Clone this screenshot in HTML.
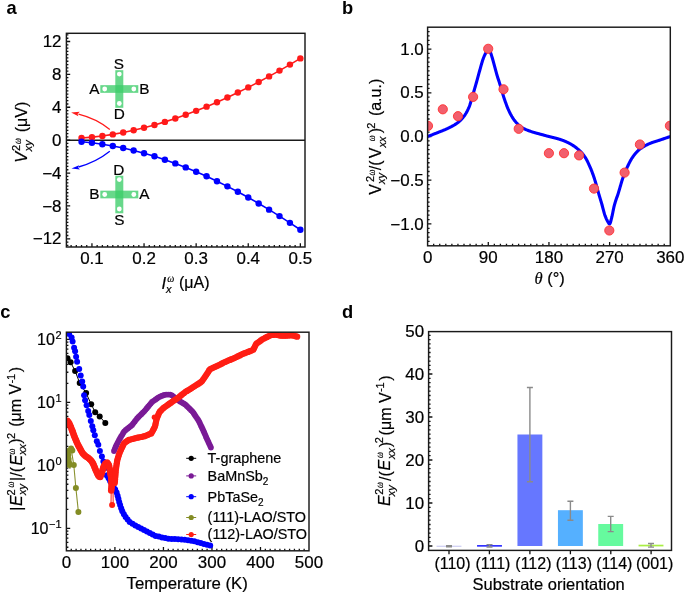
<!DOCTYPE html>
<html><head><meta charset="utf-8"><style>
html,body{margin:0;padding:0;background:#fff;overflow:hidden;}
svg{display:block;will-change:transform;}
text{font-family:"Liberation Sans", sans-serif;stroke:#000;stroke-width:0.2px;}
</style></head><body>
<svg width="685" height="594" viewBox="0 0 685 594" font-family='"Liberation Sans", sans-serif'>
<rect width="685" height="594" fill="#fff"/>
<text x="0" y="0" font-size="17.8" text-anchor="start" font-weight="bold" font-style="normal" fill="#000" transform="translate(6.6,13.9) scale(1.03,1)" style="stroke-width:0">a</text>
<line x1="66.4" y1="140.3" x2="305" y2="140.3" stroke="#1a1a1a" stroke-width="1.5"/>
<path d="M66.4,245.35h2.0 M66.4,242.07h2.0 M66.4,238.78h3.8 M66.4,235.49h2.0 M66.4,232.2h2.0 M66.4,228.92h2.0 M66.4,225.63h2.0 M66.4,222.34h2.0 M66.4,219.05h2.0 M66.4,215.76h2.0 M66.4,212.48h2.0 M66.4,209.19h2.0 M66.4,205.9h3.8 M66.4,202.61h2.0 M66.4,199.33h2.0 M66.4,196.04h2.0 M66.4,192.75h2.0 M66.4,189.46h2.0 M66.4,186.18h2.0 M66.4,182.89h2.0 M66.4,179.6h2.0 M66.4,176.31h2.0 M66.4,173.03h3.8 M66.4,169.74h2.0 M66.4,166.45h2.0 M66.4,163.16h2.0 M66.4,159.88h2.0 M66.4,156.59h2.0 M66.4,153.3h2.0 M66.4,150.01h2.0 M66.4,146.73h2.0 M66.4,143.44h2.0 M66.4,140.15h3.8 M66.4,136.86h2.0 M66.4,133.57h2.0 M66.4,130.29h2.0 M66.4,127h2.0 M66.4,123.71h2.0 M66.4,120.42h2.0 M66.4,117.14h2.0 M66.4,113.85h2.0 M66.4,110.56h2.0 M66.4,107.27h3.8 M66.4,103.99h2.0 M66.4,100.7h2.0 M66.4,97.41h2.0 M66.4,94.12h2.0 M66.4,90.84h2.0 M66.4,87.55h2.0 M66.4,84.26h2.0 M66.4,80.97h2.0 M66.4,77.69h2.0 M66.4,74.4h3.8 M66.4,71.11h2.0 M66.4,67.82h2.0 M66.4,64.54h2.0 M66.4,61.25h2.0 M66.4,57.96h2.0 M66.4,54.67h2.0 M66.4,51.38h2.0 M66.4,48.1h2.0 M66.4,44.81h2.0 M66.4,41.52h3.8 M66.4,38.23h2.0 M66.4,34.95h2.0 M71.11,247v-2.0 M76.32,247v-2.0 M81.53,247v-2.0 M86.74,247v-2.0 M91.95,247v-3.8 M97.16,247v-2.0 M102.37,247v-2.0 M107.58,247v-2.0 M112.79,247v-2.0 M118,247v-2.0 M123.21,247v-2.0 M128.42,247v-2.0 M133.63,247v-2.0 M138.84,247v-2.0 M144.05,247v-3.8 M149.26,247v-2.0 M154.47,247v-2.0 M159.68,247v-2.0 M164.89,247v-2.0 M170.1,247v-2.0 M175.31,247v-2.0 M180.52,247v-2.0 M185.73,247v-2.0 M190.94,247v-2.0 M196.15,247v-3.8 M201.36,247v-2.0 M206.57,247v-2.0 M211.78,247v-2.0 M216.99,247v-2.0 M222.2,247v-2.0 M227.41,247v-2.0 M232.62,247v-2.0 M237.83,247v-2.0 M243.04,247v-2.0 M248.25,247v-3.8 M253.46,247v-2.0 M258.67,247v-2.0 M263.88,247v-2.0 M269.09,247v-2.0 M274.3,247v-2.0 M279.51,247v-2.0 M284.72,247v-2.0 M289.93,247v-2.0 M295.14,247v-2.0 M300.35,247v-3.8" stroke="#111" stroke-width="1.3" fill="none"/>
<rect x="66.4" y="33.3" width="238.6" height="213.7" fill="none" stroke="#1a1a1a" stroke-width="1.45" stroke-linejoin="miter"/>
<text x="0" y="0" font-size="16" text-anchor="end" font-weight="normal" font-style="normal" fill="#000" transform="translate(61.5,47.12) scale(1.06,1)">12</text>
<text x="0" y="0" font-size="16" text-anchor="end" font-weight="normal" font-style="normal" fill="#000" transform="translate(61.5,80) scale(1.06,1)">8</text>
<text x="0" y="0" font-size="16" text-anchor="end" font-weight="normal" font-style="normal" fill="#000" transform="translate(61.5,112.87) scale(1.06,1)">4</text>
<text x="0" y="0" font-size="16" text-anchor="end" font-weight="normal" font-style="normal" fill="#000" transform="translate(61.5,145.75) scale(1.06,1)">0</text>
<text x="0" y="0" font-size="16" text-anchor="end" font-weight="normal" font-style="normal" fill="#000" transform="translate(61.5,178.63) scale(1.06,1)">−4</text>
<text x="0" y="0" font-size="16" text-anchor="end" font-weight="normal" font-style="normal" fill="#000" transform="translate(61.5,211.5) scale(1.06,1)">−8</text>
<text x="0" y="0" font-size="16" text-anchor="end" font-weight="normal" font-style="normal" fill="#000" transform="translate(61.5,244.38) scale(1.06,1)">−12</text>
<text x="0" y="0" font-size="16" text-anchor="middle" font-weight="normal" font-style="normal" fill="#000" transform="translate(91.95,264.2) scale(1.06,1)">0.1</text>
<text x="0" y="0" font-size="16" text-anchor="middle" font-weight="normal" font-style="normal" fill="#000" transform="translate(144.05,264.2) scale(1.06,1)">0.2</text>
<text x="0" y="0" font-size="16" text-anchor="middle" font-weight="normal" font-style="normal" fill="#000" transform="translate(196.15,264.2) scale(1.06,1)">0.3</text>
<text x="0" y="0" font-size="16" text-anchor="middle" font-weight="normal" font-style="normal" fill="#000" transform="translate(248.25,264.2) scale(1.06,1)">0.4</text>
<text x="0" y="0" font-size="16" text-anchor="middle" font-weight="normal" font-style="normal" fill="#000" transform="translate(300.35,264.2) scale(1.06,1)">0.5</text>
<polyline points="81.53,138.03 91.95,137.15 102.37,135.93 112.79,134.38 123.21,132.5 133.63,130.3 144.05,127.79 154.47,124.98 164.89,121.88 175.31,118.48 185.73,114.81 196.15,110.87 206.57,106.67 216.99,102.22 227.41,97.51 237.83,92.57 248.25,87.4 258.67,82.01 269.09,76.4 279.51,70.59 289.93,64.58 300.35,58.38" fill="none" stroke="#ff1a1a" stroke-width="1.6"/>
<circle cx="81.53" cy="138.03" r="3.2" fill="#ff1a1a"/>
<circle cx="91.95" cy="137.15" r="3.2" fill="#ff1a1a"/>
<circle cx="102.37" cy="135.93" r="3.2" fill="#ff1a1a"/>
<circle cx="112.79" cy="134.38" r="3.2" fill="#ff1a1a"/>
<circle cx="123.21" cy="132.5" r="3.2" fill="#ff1a1a"/>
<circle cx="133.63" cy="130.3" r="3.2" fill="#ff1a1a"/>
<circle cx="144.05" cy="127.79" r="3.2" fill="#ff1a1a"/>
<circle cx="154.47" cy="124.98" r="3.2" fill="#ff1a1a"/>
<circle cx="164.89" cy="121.88" r="3.2" fill="#ff1a1a"/>
<circle cx="175.31" cy="118.48" r="3.2" fill="#ff1a1a"/>
<circle cx="185.73" cy="114.81" r="3.2" fill="#ff1a1a"/>
<circle cx="196.15" cy="110.87" r="3.2" fill="#ff1a1a"/>
<circle cx="206.57" cy="106.67" r="3.2" fill="#ff1a1a"/>
<circle cx="216.99" cy="102.22" r="3.2" fill="#ff1a1a"/>
<circle cx="227.41" cy="97.51" r="3.2" fill="#ff1a1a"/>
<circle cx="237.83" cy="92.57" r="3.2" fill="#ff1a1a"/>
<circle cx="248.25" cy="87.4" r="3.2" fill="#ff1a1a"/>
<circle cx="258.67" cy="82.01" r="3.2" fill="#ff1a1a"/>
<circle cx="269.09" cy="76.4" r="3.2" fill="#ff1a1a"/>
<circle cx="279.51" cy="70.59" r="3.2" fill="#ff1a1a"/>
<circle cx="289.93" cy="64.58" r="3.2" fill="#ff1a1a"/>
<circle cx="300.35" cy="58.38" r="3.2" fill="#ff1a1a"/>
<polyline points="81.53,141.71 91.95,142.77 102.37,144.18 112.79,145.93 123.21,148.03 133.63,150.46 144.05,153.22 154.47,156.3 164.89,159.69 175.31,163.4 185.73,167.4 196.15,171.71 206.57,176.31 216.99,181.19 227.41,186.35 237.83,191.78 248.25,197.48 258.67,203.44 269.09,209.66 279.51,216.12 289.93,222.83 300.35,229.77" fill="none" stroke="#0000ff" stroke-width="1.6"/>
<circle cx="81.53" cy="141.71" r="3.2" fill="#0000ff"/>
<circle cx="91.95" cy="142.77" r="3.2" fill="#0000ff"/>
<circle cx="102.37" cy="144.18" r="3.2" fill="#0000ff"/>
<circle cx="112.79" cy="145.93" r="3.2" fill="#0000ff"/>
<circle cx="123.21" cy="148.03" r="3.2" fill="#0000ff"/>
<circle cx="133.63" cy="150.46" r="3.2" fill="#0000ff"/>
<circle cx="144.05" cy="153.22" r="3.2" fill="#0000ff"/>
<circle cx="154.47" cy="156.3" r="3.2" fill="#0000ff"/>
<circle cx="164.89" cy="159.69" r="3.2" fill="#0000ff"/>
<circle cx="175.31" cy="163.4" r="3.2" fill="#0000ff"/>
<circle cx="185.73" cy="167.4" r="3.2" fill="#0000ff"/>
<circle cx="196.15" cy="171.71" r="3.2" fill="#0000ff"/>
<circle cx="206.57" cy="176.31" r="3.2" fill="#0000ff"/>
<circle cx="216.99" cy="181.19" r="3.2" fill="#0000ff"/>
<circle cx="227.41" cy="186.35" r="3.2" fill="#0000ff"/>
<circle cx="237.83" cy="191.78" r="3.2" fill="#0000ff"/>
<circle cx="248.25" cy="197.48" r="3.2" fill="#0000ff"/>
<circle cx="258.67" cy="203.44" r="3.2" fill="#0000ff"/>
<circle cx="269.09" cy="209.66" r="3.2" fill="#0000ff"/>
<circle cx="279.51" cy="216.12" r="3.2" fill="#0000ff"/>
<circle cx="289.93" cy="222.83" r="3.2" fill="#0000ff"/>
<circle cx="300.35" cy="229.77" r="3.2" fill="#0000ff"/>
<path d="M109.8,129.5 Q96,118.5 78.5,114.2" fill="none" stroke="#ff1a1a" stroke-width="1.3"/>
<path d="M71.1,112.6 L79.7,111.8 L77.6,113.9 L78.4,116.2 Z" fill="#ff1a1a"/>
<path d="M109.8,151.3 Q96,162.3 78.5,167.0" fill="none" stroke="#0000ff" stroke-width="1.3"/>
<path d="M71.5,168.4 L79.1,165.3 L78.0,167.4 L79.9,169.6 Z" fill="#0000ff"/>
<rect x="115.3" y="70.2" width="8" height="37.6" fill="rgba(60,205,105,0.78)"/>
<rect x="100.3" y="85.15" width="38" height="7.7" fill="rgba(60,205,105,0.78)"/>
<circle cx="119.3" cy="74.1" r="2.4" fill="#fff"/>
<circle cx="119.3" cy="103.5" r="2.4" fill="#fff"/>
<circle cx="104.7" cy="89" r="2.4" fill="#fff"/>
<circle cx="133.8" cy="89" r="2.4" fill="#fff"/>
<text x="0" y="0" font-size="14.6" text-anchor="middle" font-weight="normal" font-style="normal" fill="#000" transform="translate(118.9,69) scale(1.05,1)">S</text>
<text x="0" y="0" font-size="14.6" text-anchor="middle" font-weight="normal" font-style="normal" fill="#000" transform="translate(119.3,119.2) scale(1.05,1)">D</text>
<text x="0" y="0" font-size="14.6" text-anchor="end" font-weight="normal" font-style="normal" fill="#000" transform="translate(99.5,93.7) scale(1.05,1)">A</text>
<text x="0" y="0" font-size="14.6" text-anchor="start" font-weight="normal" font-style="normal" fill="#000" transform="translate(139.3,93.7) scale(1.05,1)">B</text>
<rect x="115.3" y="175.7" width="8" height="37.6" fill="rgba(60,205,105,0.78)"/>
<rect x="100.3" y="190.65" width="38" height="7.7" fill="rgba(60,205,105,0.78)"/>
<circle cx="119.3" cy="179.6" r="2.4" fill="#fff"/>
<circle cx="119.3" cy="209" r="2.4" fill="#fff"/>
<circle cx="104.7" cy="194.5" r="2.4" fill="#fff"/>
<circle cx="133.8" cy="194.5" r="2.4" fill="#fff"/>
<text x="0" y="0" font-size="14.6" text-anchor="middle" font-weight="normal" font-style="normal" fill="#000" transform="translate(118.9,174.5) scale(1.05,1)">D</text>
<text x="0" y="0" font-size="14.6" text-anchor="middle" font-weight="normal" font-style="normal" fill="#000" transform="translate(119.3,224.7) scale(1.05,1)">S</text>
<text x="0" y="0" font-size="14.6" text-anchor="end" font-weight="normal" font-style="normal" fill="#000" transform="translate(99.5,199.2) scale(1.05,1)">B</text>
<text x="0" y="0" font-size="14.6" text-anchor="start" font-weight="normal" font-style="normal" fill="#000" transform="translate(139.3,199.2) scale(1.05,1)">A</text>
<g transform="translate(26.8,160.8) rotate(-90)"><text x="-2" y="0.4" font-size="16.5" font-style="italic" fill="#000">V</text><text x="9.7" y="-6.8" font-size="11" fill="#000">2</text><text transform="translate(16.7,-6.2) scale(0.8,1)" font-size="10.5" font-style="italic" style="font-family:'Liberation Serif'" fill="#000">ω</text><text x="9.5" y="5" font-size="11" font-style="italic" fill="#000">xy</text><text x="28.6" y="0" font-size="16" fill="#000">(μV)</text></g>
<g transform="translate(162.4,288.7)"><text x="-1" y="0.2" font-size="16.5" font-style="italic" fill="#000">I</text><text transform="translate(4.8,-6.4) scale(0.95,1)" font-size="10.5" font-style="italic" style="font-family:'Liberation Serif'" fill="#000">ω</text><text x="3.5" y="4" font-size="11" font-style="italic" fill="#000">x</text><text x="16.6" y="-0.4" font-size="16" fill="#000">(μA)</text></g>
<text x="0" y="0" font-size="17.8" text-anchor="start" font-weight="bold" font-style="normal" fill="#000" transform="translate(341.9,13.6) scale(1.03,1)" style="stroke-width:0">b</text>
<path d="M427.6,241.43h2.0 M427.6,237.06h2.0 M427.6,232.68h2.0 M427.6,228.31h2.0 M427.6,223.94h3.8 M427.6,219.57h2.0 M427.6,215.2h2.0 M427.6,210.82h2.0 M427.6,206.45h2.0 M427.6,202.08h2.0 M427.6,197.71h2.0 M427.6,193.34h2.0 M427.6,188.96h2.0 M427.6,184.59h2.0 M427.6,180.22h3.8 M427.6,175.85h2.0 M427.6,171.48h2.0 M427.6,167.1h2.0 M427.6,162.73h2.0 M427.6,158.36h2.0 M427.6,153.99h2.0 M427.6,149.62h2.0 M427.6,145.24h2.0 M427.6,140.87h2.0 M427.6,136.5h3.8 M427.6,132.13h2.0 M427.6,127.76h2.0 M427.6,123.38h2.0 M427.6,119.01h2.0 M427.6,114.64h2.0 M427.6,110.27h2.0 M427.6,105.9h2.0 M427.6,101.52h2.0 M427.6,97.15h2.0 M427.6,92.78h3.8 M427.6,88.41h2.0 M427.6,84.04h2.0 M427.6,79.66h2.0 M427.6,75.29h2.0 M427.6,70.92h2.0 M427.6,66.55h2.0 M427.6,62.18h2.0 M427.6,57.8h2.0 M427.6,53.43h2.0 M427.6,49.06h3.8 M427.6,44.69h2.0 M427.6,40.32h2.0 M427.6,35.94h2.0 M427.6,31.57h2.0 M433.67,245.8v-2.0 M439.74,245.8v-2.0 M445.8,245.8v-2.0 M451.87,245.8v-2.0 M457.94,245.8v-2.0 M464,245.8v-2.0 M470.07,245.8v-2.0 M476.14,245.8v-2.0 M482.21,245.8v-2.0 M488.28,245.8v-3.8 M494.34,245.8v-2.0 M500.41,245.8v-2.0 M506.48,245.8v-2.0 M512.55,245.8v-2.0 M518.61,245.8v-2.0 M524.68,245.8v-2.0 M530.75,245.8v-2.0 M536.82,245.8v-2.0 M542.88,245.8v-2.0 M548.95,245.8v-3.8 M555.02,245.8v-2.0 M561.09,245.8v-2.0 M567.15,245.8v-2.0 M573.22,245.8v-2.0 M579.29,245.8v-2.0 M585.36,245.8v-2.0 M591.42,245.8v-2.0 M597.49,245.8v-2.0 M603.56,245.8v-2.0 M609.62,245.8v-3.8 M615.69,245.8v-2.0 M621.76,245.8v-2.0 M627.83,245.8v-2.0 M633.89,245.8v-2.0 M639.96,245.8v-2.0 M646.03,245.8v-2.0 M652.1,245.8v-2.0 M658.16,245.8v-2.0 M664.23,245.8v-2.0" stroke="#111" stroke-width="1.3" fill="none"/>
<defs><clipPath id="cb"><rect x="427.6" y="27.2" width="242.69999999999993" height="218.60000000000002"/></clipPath><clipPath id="cc"><rect x="66.4" y="332.2" width="242.6" height="218.6"/></clipPath></defs>
<polyline points="427.6,136.5 427.94,136.37 428.27,136.25 428.61,136.12 428.95,135.99 429.29,135.86 429.62,135.73 429.96,135.61 430.3,135.48 430.63,135.35 430.97,135.22 431.31,135.09 431.65,134.96 431.98,134.83 432.32,134.7 432.66,134.56 432.99,134.43 433.33,134.3 433.67,134.17 434,134.04 434.34,133.91 434.68,133.77 435.02,133.64 435.35,133.51 435.69,133.37 436.03,133.24 436.36,133.1 436.7,132.97 437.04,132.84 437.38,132.7 437.71,132.57 438.05,132.43 438.39,132.3 438.72,132.16 439.06,132.03 439.4,131.9 439.74,131.77 440.07,131.63 440.41,131.5 440.75,131.37 441.08,131.24 441.42,131.11 441.76,130.97 442.09,130.84 442.43,130.71 442.77,130.57 443.11,130.43 443.44,130.3 443.78,130.16 444.12,130.02 444.45,129.88 444.79,129.74 445.13,129.59 445.47,129.45 445.8,129.3 446.14,129.15 446.48,129 446.81,128.85 447.15,128.69 447.49,128.53 447.83,128.37 448.16,128.2 448.5,128.04 448.84,127.88 449.17,127.71 449.51,127.55 449.85,127.38 450.18,127.21 450.52,127.04 450.86,126.87 451.2,126.69 451.53,126.52 451.87,126.34 452.21,126.16 452.54,125.98 452.88,125.79 453.22,125.6 453.56,125.41 453.89,125.21 454.23,125.01 454.57,124.81 454.9,124.6 455.24,124.39 455.58,124.17 455.92,123.95 456.25,123.72 456.59,123.49 456.93,123.25 457.26,123.01 457.6,122.76 457.94,122.51 458.27,122.25 458.61,121.98 458.95,121.69 459.29,121.4 459.62,121.1 459.96,120.79 460.3,120.46 460.63,120.13 460.97,119.79 461.31,119.43 461.65,119.07 461.98,118.69 462.32,118.3 462.66,117.91 462.99,117.5 463.33,117.08 463.67,116.65 464,116.21 464.34,115.76 464.68,115.28 465.02,114.79 465.35,114.28 465.69,113.75 466.03,113.2 466.36,112.63 466.7,112.04 467.04,111.42 467.38,110.78 467.71,110.11 468.05,109.42 468.39,108.7 468.72,107.95 469.06,107.16 469.4,106.29 469.74,105.35 470.07,104.33 470.41,103.26 470.75,102.14 471.08,100.98 471.42,99.8 471.76,98.61 472.1,97.41 472.43,96.21 472.77,95.03 473.11,93.88 473.44,92.75 473.78,91.61 474.12,90.47 474.45,89.32 474.79,88.17 475.13,87 475.47,85.83 475.8,84.66 476.14,83.48 476.48,82.29 476.81,81.09 477.15,79.87 477.49,78.63 477.83,77.39 478.16,76.15 478.5,74.91 478.84,73.67 479.17,72.45 479.51,71.24 479.85,70.05 480.19,68.85 480.52,67.64 480.86,66.41 481.2,65.2 481.53,63.99 481.87,62.82 482.21,61.69 482.54,60.62 482.88,59.61 483.22,58.68 483.56,57.81 483.89,56.99 484.23,56.19 484.57,55.44 484.9,54.71 485.24,54.02 485.58,53.36 485.92,52.73 486.25,52.12 486.59,51.48 486.93,50.8 487.26,50.15 487.6,49.59 487.94,49.2 488.28,49.06 488.61,49.19 488.95,49.55 489.29,50.09 489.62,50.73 489.96,51.43 490.3,52.12 490.63,52.88 490.97,53.79 491.31,54.8 491.65,55.86 491.98,56.92 492.32,58.04 492.66,59.21 492.99,60.43 493.33,61.67 493.67,62.93 494.01,64.19 494.34,65.43 494.68,66.66 495.02,67.91 495.35,69.17 495.69,70.44 496.03,71.69 496.37,72.93 496.7,74.13 497.04,75.29 497.38,76.41 497.71,77.49 498.05,78.54 498.39,79.58 498.72,80.6 499.06,81.61 499.4,82.63 499.74,83.66 500.07,84.71 500.41,85.78 500.75,86.9 501.08,88.04 501.42,89.21 501.76,90.38 502.1,91.56 502.43,92.74 502.77,93.89 503.11,95.02 503.44,96.11 503.78,97.15 504.12,98.16 504.46,99.17 504.79,100.17 505.13,101.16 505.47,102.14 505.8,103.1 506.14,104.05 506.48,104.97 506.81,105.87 507.15,106.75 507.49,107.61 507.83,108.43 508.16,109.22 508.5,109.98 508.84,110.71 509.17,111.4 509.51,112.09 509.85,112.76 510.19,113.41 510.52,114.06 510.86,114.68 511.2,115.3 511.53,115.89 511.87,116.48 512.21,117.04 512.55,117.59 512.88,118.12 513.22,118.63 513.56,119.13 513.89,119.61 514.23,120.07 514.57,120.51 514.9,120.93 515.24,121.34 515.58,121.75 515.92,122.15 516.25,122.54 516.59,122.92 516.93,123.3 517.26,123.66 517.6,124.02 517.94,124.37 518.28,124.7 518.61,125.03 518.95,125.34 519.29,125.65 519.62,125.94 519.96,126.21 520.3,126.48 520.63,126.73 520.97,126.97 521.31,127.19 521.65,127.4 521.98,127.6 522.32,127.8 522.66,127.99 522.99,128.17 523.33,128.35 523.67,128.53 524.01,128.7 524.34,128.86 524.68,129.02 525.02,129.18 525.35,129.33 525.69,129.48 526.03,129.62 526.37,129.77 526.7,129.9 527.04,130.04 527.38,130.17 527.71,130.3 528.05,130.43 528.39,130.56 528.73,130.68 529.06,130.8 529.4,130.92 529.74,131.04 530.07,131.16 530.41,131.27 530.75,131.39 531.08,131.51 531.42,131.62 531.76,131.74 532.1,131.85 532.43,131.96 532.77,132.07 533.11,132.17 533.44,132.28 533.78,132.38 534.12,132.48 534.46,132.58 534.79,132.67 535.13,132.77 535.47,132.86 535.8,132.96 536.14,133.05 536.48,133.14 536.82,133.23 537.15,133.32 537.49,133.41 537.83,133.5 538.16,133.59 538.5,133.68 538.84,133.77 539.17,133.86 539.51,133.95 539.85,134.04 540.19,134.13 540.52,134.22 540.86,134.31 541.2,134.41 541.53,134.5 541.87,134.59 542.21,134.69 542.55,134.78 542.88,134.87 543.22,134.96 543.56,135.06 543.89,135.15 544.23,135.24 544.57,135.33 544.9,135.42 545.24,135.51 545.58,135.6 545.92,135.69 546.25,135.79 546.59,135.88 546.93,135.97 547.26,136.06 547.6,136.14 547.94,136.23 548.28,136.32 548.61,136.41 548.95,136.5 549.29,136.59 549.62,136.67 549.96,136.76 550.3,136.84 550.64,136.92 550.97,137.01 551.31,137.09 551.65,137.17 551.98,137.25 552.32,137.33 552.66,137.41 553,137.49 553.33,137.57 553.67,137.65 554.01,137.73 554.34,137.81 554.68,137.89 555.02,137.98 555.35,138.06 555.69,138.15 556.03,138.24 556.37,138.33 556.7,138.42 557.04,138.52 557.38,138.61 557.71,138.71 558.05,138.81 558.39,138.92 558.73,139.02 559.06,139.13 559.4,139.23 559.74,139.34 560.07,139.45 560.41,139.56 560.75,139.68 561.09,139.79 561.42,139.91 561.76,140.03 562.1,140.15 562.43,140.27 562.77,140.39 563.11,140.52 563.44,140.65 563.78,140.78 564.12,140.91 564.46,141.04 564.79,141.18 565.13,141.32 565.47,141.46 565.8,141.6 566.14,141.75 566.48,141.9 566.82,142.05 567.15,142.21 567.49,142.36 567.83,142.52 568.16,142.69 568.5,142.85 568.84,143.02 569.17,143.2 569.51,143.38 569.85,143.56 570.19,143.75 570.52,143.94 570.86,144.14 571.2,144.33 571.53,144.54 571.87,144.75 572.21,144.96 572.55,145.17 572.88,145.39 573.22,145.62 573.56,145.85 573.89,146.08 574.23,146.31 574.57,146.55 574.91,146.8 575.24,147.05 575.58,147.3 575.92,147.56 576.25,147.82 576.59,148.08 576.93,148.35 577.26,148.62 577.6,148.9 577.94,149.18 578.28,149.47 578.61,149.76 578.95,150.06 579.29,150.37 579.62,150.68 579.96,151.01 580.3,151.34 580.64,151.68 580.97,152.03 581.31,152.39 581.65,152.76 581.98,153.14 582.32,153.53 582.66,153.93 583,154.34 583.33,154.77 583.67,155.2 584.01,155.65 584.34,156.11 584.68,156.58 585.02,157.07 585.36,157.58 585.69,158.13 586.03,158.7 586.37,159.29 586.7,159.91 587.04,160.55 587.38,161.22 587.71,161.9 588.05,162.6 588.39,163.32 588.73,164.05 589.06,164.8 589.4,165.56 589.74,166.32 590.07,167.1 590.41,167.89 590.75,168.68 591.09,169.48 591.42,170.32 591.76,171.17 592.1,172.06 592.43,172.96 592.77,173.88 593.11,174.83 593.44,175.8 593.78,176.78 594.12,177.79 594.46,178.81 594.79,179.85 595.13,180.91 595.47,182.02 595.8,183.17 596.14,184.37 596.48,185.59 596.82,186.83 597.15,188.08 597.49,189.32 597.83,190.55 598.16,191.75 598.5,192.93 598.84,194.08 599.18,195.22 599.51,196.35 599.85,197.47 600.19,198.59 600.52,199.71 600.86,200.84 601.2,201.98 601.53,203.13 601.87,204.3 602.21,205.53 602.55,206.8 602.88,208.1 603.22,209.4 603.56,210.68 603.89,211.93 604.23,213.12 604.57,214.24 604.91,215.26 605.24,216.18 605.58,217.05 605.92,217.88 606.25,218.67 606.59,219.41 606.93,220.1 607.27,220.74 607.6,221.32 607.94,221.89 608.28,222.48 608.61,223.04 608.95,223.5 609.29,223.82 609.62,223.94 609.96,223.66 610.3,222.9 610.64,221.8 610.97,220.5 611.31,219.12 611.65,217.82 611.98,216.48 612.32,214.95 612.66,213.29 613,211.57 613.33,209.85 613.67,208.2 614.01,206.67 614.34,205.32 614.68,204.11 615.02,202.95 615.36,201.86 615.69,200.81 616.03,199.8 616.37,198.82 616.7,197.85 617.04,196.89 617.38,195.92 617.72,194.94 618.05,193.93 618.39,192.89 618.73,191.8 619.06,190.68 619.4,189.53 619.74,188.36 620.07,187.18 620.41,186 620.75,184.82 621.09,183.65 621.42,182.5 621.76,181.38 622.1,180.3 622.43,179.26 622.77,178.28 623.11,177.33 623.45,176.39 623.78,175.48 624.12,174.58 624.46,173.71 624.79,172.86 625.13,172.02 625.47,171.2 625.81,170.41 626.14,169.63 626.48,168.87 626.82,168.12 627.15,167.4 627.49,166.67 627.83,165.96 628.16,165.25 628.5,164.55 628.84,163.86 629.18,163.18 629.51,162.51 629.85,161.86 630.19,161.22 630.52,160.6 630.86,159.99 631.2,159.4 631.54,158.83 631.87,158.29 632.21,157.76 632.55,157.26 632.88,156.78 633.22,156.31 633.56,155.86 633.89,155.41 634.23,154.97 634.57,154.54 634.91,154.13 635.24,153.72 635.58,153.32 635.92,152.93 636.25,152.55 636.59,152.18 636.93,151.82 637.27,151.47 637.6,151.14 637.94,150.81 638.28,150.5 638.61,150.19 638.95,149.9 639.29,149.62 639.63,149.35 639.96,149.09 640.3,148.84 640.64,148.59 640.97,148.35 641.31,148.11 641.65,147.88 641.99,147.65 642.32,147.43 642.66,147.21 643,146.99 643.33,146.78 643.67,146.58 644.01,146.37 644.34,146.18 644.68,145.98 645.02,145.79 645.36,145.61 645.69,145.43 646.03,145.25 646.37,145.07 646.7,144.9 647.04,144.73 647.38,144.57 647.72,144.41 648.05,144.25 648.39,144.09 648.73,143.94 649.06,143.79 649.4,143.64 649.74,143.5 650.08,143.35 650.41,143.22 650.75,143.08 651.09,142.95 651.42,142.82 651.76,142.7 652.1,142.58 652.43,142.46 652.77,142.34 653.11,142.23 653.45,142.11 653.78,142 654.12,141.9 654.46,141.79 654.79,141.68 655.13,141.58 655.47,141.47 655.81,141.37 656.14,141.26 656.48,141.16 656.82,141.06 657.15,140.95 657.49,140.85 657.83,140.74 658.16,140.64 658.5,140.53 658.84,140.42 659.18,140.31 659.51,140.2 659.85,140.09 660.19,139.97 660.52,139.86 660.86,139.74 661.2,139.63 661.54,139.51 661.87,139.4 662.21,139.28 662.55,139.17 662.88,139.05 663.22,138.94 663.56,138.82 663.9,138.7 664.23,138.59 664.57,138.47 664.91,138.36 665.24,138.24 665.58,138.13 665.92,138.01 666.25,137.9 666.59,137.78 666.93,137.66 667.27,137.55 667.6,137.43 667.94,137.31 668.28,137.2 668.61,137.08 668.95,136.97 669.29,136.85 669.63,136.73 669.96,136.62 670.3,136.5" fill="none" stroke="#0000ff" stroke-width="3.1" stroke-linejoin="round" clip-path="url(#cb)"/>
<g clip-path="url(#cb)">
<circle cx="428" cy="125.9" r="4.6" fill="#f25f6d" stroke="#ff3030" stroke-width="0.9"/>
<circle cx="442.8" cy="109.3" r="4.6" fill="#f25f6d" stroke="#ff3030" stroke-width="0.9"/>
<circle cx="458.0" cy="116.2" r="4.6" fill="#f25f6d" stroke="#ff3030" stroke-width="0.9"/>
<circle cx="473.1" cy="96.9" r="4.6" fill="#f25f6d" stroke="#ff3030" stroke-width="0.9"/>
<circle cx="488.2" cy="48.8" r="4.6" fill="#f25f6d" stroke="#ff3030" stroke-width="0.9"/>
<circle cx="503.5" cy="89.3" r="4.6" fill="#f25f6d" stroke="#ff3030" stroke-width="0.9"/>
<circle cx="518.7" cy="128.8" r="4.6" fill="#f25f6d" stroke="#ff3030" stroke-width="0.9"/>
<circle cx="548.9" cy="153.2" r="4.6" fill="#f25f6d" stroke="#ff3030" stroke-width="0.9"/>
<circle cx="564.0" cy="153.2" r="4.6" fill="#f25f6d" stroke="#ff3030" stroke-width="0.9"/>
<circle cx="579.1" cy="155.4" r="4.6" fill="#f25f6d" stroke="#ff3030" stroke-width="0.9"/>
<circle cx="594.0" cy="188.6" r="4.6" fill="#f25f6d" stroke="#ff3030" stroke-width="0.9"/>
<circle cx="609.3" cy="230.5" r="4.6" fill="#f25f6d" stroke="#ff3030" stroke-width="0.9"/>
<circle cx="624.6" cy="172.6" r="4.6" fill="#f25f6d" stroke="#ff3030" stroke-width="0.9"/>
<circle cx="639.9" cy="144.5" r="4.6" fill="#f25f6d" stroke="#ff3030" stroke-width="0.9"/>
<circle cx="669.9" cy="125.8" r="4.6" fill="#f25f6d" stroke="#ff3030" stroke-width="0.9"/>
</g>
<rect x="427.6" y="27.2" width="242.7" height="218.6" fill="none" stroke="#1a1a1a" stroke-width="1.45" stroke-linejoin="miter"/>
<text x="0" y="0" font-size="16" text-anchor="end" font-weight="normal" font-style="normal" fill="#000" transform="translate(423.8,54.66) scale(1.06,1)">1.0</text>
<text x="0" y="0" font-size="16" text-anchor="end" font-weight="normal" font-style="normal" fill="#000" transform="translate(423.8,98.38) scale(1.06,1)">0.5</text>
<text x="0" y="0" font-size="16" text-anchor="end" font-weight="normal" font-style="normal" fill="#000" transform="translate(423.8,142.1) scale(1.06,1)">0.0</text>
<text x="0" y="0" font-size="16" text-anchor="end" font-weight="normal" font-style="normal" fill="#000" transform="translate(423.8,185.82) scale(1.06,1)">−0.5</text>
<text x="0" y="0" font-size="16" text-anchor="end" font-weight="normal" font-style="normal" fill="#000" transform="translate(423.8,229.54) scale(1.06,1)">−1.0</text>
<text x="0" y="0" font-size="16" text-anchor="middle" font-weight="normal" font-style="normal" fill="#000" transform="translate(427.6,263) scale(1.06,1)">0</text>
<text x="0" y="0" font-size="16" text-anchor="middle" font-weight="normal" font-style="normal" fill="#000" transform="translate(488.28,263) scale(1.06,1)">90</text>
<text x="0" y="0" font-size="16" text-anchor="middle" font-weight="normal" font-style="normal" fill="#000" transform="translate(548.95,263) scale(1.06,1)">180</text>
<text x="0" y="0" font-size="16" text-anchor="middle" font-weight="normal" font-style="normal" fill="#000" transform="translate(609.62,263) scale(1.06,1)">270</text>
<text x="0" y="0" font-size="16" text-anchor="middle" font-weight="normal" font-style="normal" fill="#000" transform="translate(670.3,263) scale(1.06,1)">360</text>
<text x="534.5" y="284.2" font-size="16.5" fill="#000"><tspan font-style="italic" font-family="Liberation Serif">θ</tspan> (°)</text>
<g transform="translate(381,195) rotate(-90)"><text x="0.3" y="0.2" font-size="16" fill="#000">V</text><text x="12.9" y="-7" font-size="11" fill="#000">2</text><text transform="translate(19.4,-6.3) scale(0.8,1)" font-size="10.5" font-style="italic" style="font-family:'Liberation Serif'" fill="#000">ω</text><text x="10.9" y="3.5" font-size="11" font-style="italic" fill="#000">xy</text><text x="24.7" y="0" font-size="16" fill="#000">/(</text><text x="36.8" y="-0.2" font-size="16" fill="#000">V</text><text transform="translate(53.8,-6.2) scale(0.8,1)" font-size="10.5" font-style="italic" style="font-family:'Liberation Serif'" fill="#000">ω</text><text x="47.4" y="4.9" font-size="11" font-style="italic" fill="#000">xx</text><text x="61.7" y="0" font-size="16" fill="#000">)</text><text x="66.2" y="-6.4" font-size="11" fill="#000">2</text><text x="78.9" y="0.4" font-size="16" fill="#000">(a.u.)</text></g>
<text x="0" y="0" font-size="17.8" text-anchor="start" font-weight="bold" font-style="normal" fill="#000" transform="translate(0.3,317.5) scale(1.03,1)" style="stroke-width:0">c</text>
<path d="M66.4,547.26h2.0 M66.4,542.28h2.0 M66.4,538.06h2.0 M66.4,534.41h2.0 M66.4,531.18h2.0 M66.4,528.3h3.8 M66.4,509.34h2.0 M66.4,498.24h2.0 M66.4,490.37h2.0 M66.4,484.26h2.0 M66.4,479.28h2.0 M66.4,475.06h2.0 M66.4,471.41h2.0 M66.4,468.18h2.0 M66.4,465.3h3.8 M66.4,446.34h2.0 M66.4,435.24h2.0 M66.4,427.37h2.0 M66.4,421.26h2.0 M66.4,416.28h2.0 M66.4,412.06h2.0 M66.4,408.41h2.0 M66.4,405.18h2.0 M66.4,402.3h3.8 M66.4,383.34h2.0 M66.4,372.24h2.0 M66.4,364.37h2.0 M66.4,358.26h2.0 M66.4,353.28h2.0 M66.4,349.06h2.0 M66.4,345.41h2.0 M66.4,342.18h2.0 M66.4,339.3h3.8 M71.25,550.8v-2.0 M76.1,550.8v-2.0 M80.96,550.8v-2.0 M85.81,550.8v-2.0 M90.66,550.8v-2.0 M95.51,550.8v-2.0 M100.36,550.8v-2.0 M105.22,550.8v-2.0 M110.07,550.8v-2.0 M114.92,550.8v-3.8 M119.77,550.8v-2.0 M124.62,550.8v-2.0 M129.48,550.8v-2.0 M134.33,550.8v-2.0 M139.18,550.8v-2.0 M144.03,550.8v-2.0 M148.88,550.8v-2.0 M153.74,550.8v-2.0 M158.59,550.8v-2.0 M163.44,550.8v-3.8 M168.29,550.8v-2.0 M173.14,550.8v-2.0 M178,550.8v-2.0 M182.85,550.8v-2.0 M187.7,550.8v-2.0 M192.55,550.8v-2.0 M197.4,550.8v-2.0 M202.26,550.8v-2.0 M207.11,550.8v-2.0 M211.96,550.8v-3.8 M216.81,550.8v-2.0 M221.66,550.8v-2.0 M226.52,550.8v-2.0 M231.37,550.8v-2.0 M236.22,550.8v-2.0 M241.07,550.8v-2.0 M245.92,550.8v-2.0 M250.78,550.8v-2.0 M255.63,550.8v-2.0 M260.48,550.8v-3.8 M265.33,550.8v-2.0 M270.18,550.8v-2.0 M275.04,550.8v-2.0 M279.89,550.8v-2.0 M284.74,550.8v-2.0 M289.59,550.8v-2.0 M294.44,550.8v-2.0 M299.3,550.8v-2.0 M304.15,550.8v-2.0" stroke="#111" stroke-width="1.3" fill="none"/>
<g clip-path="url(#cc)">
<polyline points="67.5,358.3 70.6,362.3 75.1,370.9 79.7,383 86.1,393.1 91.2,404.2 95.2,412.3 99.7,416.4 105.3,423.0" fill="none" stroke="#000" stroke-width="1"/>
<g fill="#000"><circle cx="67.5" cy="358.3" r="3.0"/><circle cx="70.6" cy="362.3" r="3.0"/><circle cx="75.1" cy="370.9" r="3.0"/><circle cx="79.7" cy="383.0" r="3.0"/><circle cx="86.1" cy="393.1" r="3.0"/><circle cx="91.2" cy="404.2" r="3.0"/><circle cx="95.2" cy="412.3" r="3.0"/><circle cx="99.7" cy="416.4" r="3.0"/><circle cx="105.3" cy="423.0" r="3.0"/></g>
<g fill="#0000ff"><circle cx="68.0" cy="332.5" r="3.0"/><circle cx="69.1" cy="334.0" r="3.0"/><circle cx="71.6" cy="337.6" r="3.0"/><circle cx="72.6" cy="341.6" r="3.0"/><circle cx="74.1" cy="347.7" r="3.0"/><circle cx="75.1" cy="351.2" r="3.0"/><circle cx="76.1" cy="356.8" r="3.0"/><circle cx="77.1" cy="361.8" r="3.0"/><circle cx="79.2" cy="368.9" r="3.0"/><circle cx="80.7" cy="375.5" r="3.0"/><circle cx="82.2" cy="381.5" r="3.0"/><circle cx="83.2" cy="386.6" r="3.0"/><circle cx="84.1" cy="395.2" r="3.0"/><circle cx="85.1" cy="400.2" r="3.0"/><circle cx="86.6" cy="405.3" r="3.0"/><circle cx="88.2" cy="411.0" r="3.0"/><circle cx="89.3" cy="415.0" r="3.0"/><circle cx="90.8" cy="421.1" r="3.0"/><circle cx="92.3" cy="426.2" r="3.0"/><circle cx="93.3" cy="430.2" r="3.0"/><circle cx="94.8" cy="435.3" r="3.0"/><circle cx="96.8" cy="441.3" r="3.0"/><circle cx="98.3" cy="444.8" r="3.0"/><circle cx="99.9" cy="450.9" r="3.0"/><circle cx="101.9" cy="456.5" r="3.0"/><circle cx="103.4" cy="461.5" r="3.0"/><circle cx="105.2" cy="468.0" r="3.0"/><circle cx="107.1" cy="475.4" r="3.0"/><circle cx="107.1" cy="475.4" r="3.0"/><circle cx="108.6" cy="478.3" r="3.0"/><circle cx="110.2" cy="481.2" r="3.0"/><circle cx="111.7" cy="484.0" r="3.0"/><circle cx="113.5" cy="486.8" r="3.0"/><circle cx="115.2" cy="489.6" r="3.0"/><circle cx="116.6" cy="492.6" r="3.0"/><circle cx="117.6" cy="495.7" r="3.0"/><circle cx="118.4" cy="498.8" r="3.0"/><circle cx="119.2" cy="502.0" r="3.0"/><circle cx="120.1" cy="505.1" r="3.0"/><circle cx="121.2" cy="508.2" r="3.0"/><circle cx="122.3" cy="511.3" r="3.0"/><circle cx="123.9" cy="514.2" r="3.0"/><circle cx="125.6" cy="516.9" r="3.0"/><circle cx="127.6" cy="519.5" r="3.0"/><circle cx="129.7" cy="522.0" r="3.0"/><circle cx="132.5" cy="523.8" r="3.0"/><circle cx="135.3" cy="525.4" r="3.0"/><circle cx="138.2" cy="526.9" r="3.0"/><circle cx="141.1" cy="528.4" r="3.0"/><circle cx="144.0" cy="529.9" r="3.0"/><circle cx="146.9" cy="531.4" r="3.0"/><circle cx="149.8" cy="532.9" r="3.0"/><circle cx="152.7" cy="534.4" r="3.0"/><circle cx="155.6" cy="535.9" r="3.0"/><circle cx="158.8" cy="536.6" r="3.0"/><circle cx="162.0" cy="537.4" r="3.0"/><circle cx="165.2" cy="538.1" r="3.0"/><circle cx="168.4" cy="538.7" r="3.0"/><circle cx="171.7" cy="538.9" r="3.0"/><circle cx="174.9" cy="539.0" r="3.0"/><circle cx="178.2" cy="539.2" r="3.0"/><circle cx="181.5" cy="539.4" r="3.0"/><circle cx="184.7" cy="539.8" r="3.0"/><circle cx="188.0" cy="540.3" r="3.0"/><circle cx="191.2" cy="540.7" r="3.0"/><circle cx="194.4" cy="541.3" r="3.0"/><circle cx="197.6" cy="542.2" r="3.0"/><circle cx="200.7" cy="543.0" r="3.0"/><circle cx="203.9" cy="543.9" r="3.0"/><circle cx="207.0" cy="544.7" r="3.0"/><circle cx="210.2" cy="545.6" r="3.0"/></g>
<polyline points="71.1,448.6 73.8,465 75.9,488.1 78.4,512" fill="none" stroke="#8a9230" stroke-width="1.1"/>
<polyline points="68.0,451 69.3,465 70.0,469" fill="none" stroke="#8a9230" stroke-width="1.1"/>
<g fill="#838c24"><circle cx="68.0" cy="451.0" r="3.0"/><circle cx="68.3" cy="455.0" r="3.0"/><circle cx="68.6" cy="459.0" r="3.0"/><circle cx="69.0" cy="462.5" r="3.0"/><circle cx="69.3" cy="465.0" r="3.0"/><circle cx="71.1" cy="448.6" r="3.0"/><circle cx="72.3" cy="450.5" r="3.0"/><circle cx="73.8" cy="465.0" r="3.0"/><circle cx="75.9" cy="488.1" r="3.0"/><circle cx="78.4" cy="512.0" r="3.0"/></g>
<g fill="#7a1a96"><circle cx="114.0" cy="451.0" r="2.9"/><circle cx="114.8" cy="449.1" r="2.9"/><circle cx="115.5" cy="447.2" r="2.9"/><circle cx="116.3" cy="445.4" r="2.9"/><circle cx="117.2" cy="443.6" r="2.9"/><circle cx="118.1" cy="441.8" r="2.9"/><circle cx="119.1" cy="440.0" r="2.9"/><circle cx="120.1" cy="438.2" r="2.9"/><circle cx="121.1" cy="436.5" r="2.9"/><circle cx="122.2" cy="434.8" r="2.9"/><circle cx="123.2" cy="433.0" r="2.9"/><circle cx="124.3" cy="431.3" r="2.9"/><circle cx="125.8" cy="430.0" r="2.9"/><circle cx="127.4" cy="428.7" r="2.9"/><circle cx="129.0" cy="427.5" r="2.9"/><circle cx="130.6" cy="426.2" r="2.9"/><circle cx="132.1" cy="424.9" r="2.9"/><circle cx="133.3" cy="423.3" r="2.9"/><circle cx="134.6" cy="421.7" r="2.9"/><circle cx="135.8" cy="420.1" r="2.9"/><circle cx="137.1" cy="418.5" r="2.9"/><circle cx="138.5" cy="417.0" r="2.9"/><circle cx="139.9" cy="415.6" r="2.9"/><circle cx="141.3" cy="414.2" r="2.9"/><circle cx="142.8" cy="412.7" r="2.9"/><circle cx="144.2" cy="411.3" r="2.9"/><circle cx="145.5" cy="409.8" r="2.9"/><circle cx="146.8" cy="408.2" r="2.9"/><circle cx="148.1" cy="406.7" r="2.9"/><circle cx="149.4" cy="405.1" r="2.9"/><circle cx="150.7" cy="403.6" r="2.9"/><circle cx="152.0" cy="402.0" r="2.9"/><circle cx="153.6" cy="400.8" r="2.9"/><circle cx="155.3" cy="399.7" r="2.9"/><circle cx="157.0" cy="398.5" r="2.9"/><circle cx="158.6" cy="397.3" r="2.9"/><circle cx="160.4" cy="396.4" r="2.9"/><circle cx="162.3" cy="395.7" r="2.9"/><circle cx="164.2" cy="395.0" r="2.9"/><circle cx="166.2" cy="394.6" r="2.9"/><circle cx="168.2" cy="394.6" r="2.9"/><circle cx="170.2" cy="394.6" r="2.9"/><circle cx="172.0" cy="395.3" r="2.9"/><circle cx="173.6" cy="396.6" r="2.9"/><circle cx="175.2" cy="397.8" r="2.9"/><circle cx="176.7" cy="399.1" r="2.9"/><circle cx="178.3" cy="400.3" r="2.9"/><circle cx="180.0" cy="401.4" r="2.9"/><circle cx="181.8" cy="402.4" r="2.9"/><circle cx="183.5" cy="403.5" r="2.9"/><circle cx="185.2" cy="404.5" r="2.9"/><circle cx="186.8" cy="405.9" r="2.9"/><circle cx="188.2" cy="407.3" r="2.9"/><circle cx="189.6" cy="408.7" r="2.9"/><circle cx="191.1" cy="410.2" r="2.9"/><circle cx="192.5" cy="411.6" r="2.9"/><circle cx="193.7" cy="413.2" r="2.9"/><circle cx="194.8" cy="414.9" r="2.9"/><circle cx="195.9" cy="416.6" r="2.9"/><circle cx="197.1" cy="418.3" r="2.9"/><circle cx="198.2" cy="419.9" r="2.9"/><circle cx="199.2" cy="421.7" r="2.9"/><circle cx="200.0" cy="423.5" r="2.9"/><circle cx="200.9" cy="425.4" r="2.9"/><circle cx="201.8" cy="427.2" r="2.9"/><circle cx="202.6" cy="429.0" r="2.9"/><circle cx="203.5" cy="430.9" r="2.9"/><circle cx="204.3" cy="432.7" r="2.9"/><circle cx="205.1" cy="434.6" r="2.9"/><circle cx="205.9" cy="436.4" r="2.9"/><circle cx="206.7" cy="438.3" r="2.9"/><circle cx="207.5" cy="440.1" r="2.9"/><circle cx="208.4" cy="442.0" r="2.9"/><circle cx="209.2" cy="443.8" r="2.9"/><circle cx="210.1" cy="445.7" r="2.9"/><circle cx="210.9" cy="447.5" r="2.9"/></g>
<polyline points="111.2,490.4 111.0,505" fill="none" stroke="#ff1e14" stroke-width="1"/>
<polyline points="113.0,490.4 113.2,505" fill="none" stroke="#ff1e14" stroke-width="1"/>
<g fill="#ff1e14"><circle cx="67.3" cy="420.8" r="3.25"/><circle cx="68.5" cy="422.2" r="3.25"/><circle cx="69.4" cy="423.7" r="3.25"/><circle cx="70.1" cy="425.4" r="3.25"/><circle cx="70.8" cy="427.1" r="3.25"/><circle cx="71.5" cy="428.7" r="3.25"/><circle cx="72.2" cy="430.4" r="3.25"/><circle cx="72.8" cy="432.1" r="3.25"/><circle cx="73.4" cy="433.8" r="3.25"/><circle cx="74.0" cy="435.6" r="3.25"/><circle cx="74.7" cy="437.2" r="3.25"/><circle cx="75.4" cy="438.9" r="3.25"/><circle cx="76.1" cy="440.6" r="3.25"/><circle cx="76.8" cy="442.2" r="3.25"/><circle cx="77.6" cy="443.9" r="3.25"/><circle cx="78.3" cy="445.5" r="3.25"/><circle cx="79.2" cy="447.1" r="3.25"/><circle cx="80.1" cy="448.7" r="3.25"/><circle cx="80.9" cy="450.3" r="3.25"/><circle cx="81.9" cy="451.9" r="3.25"/><circle cx="82.9" cy="453.4" r="3.25"/><circle cx="84.1" cy="454.7" r="3.25"/><circle cx="85.4" cy="456.0" r="3.25"/><circle cx="86.8" cy="457.1" r="3.25"/><circle cx="88.4" cy="458.1" r="3.25"/><circle cx="89.7" cy="459.2" r="3.25"/><circle cx="91.0" cy="460.5" r="3.25"/><circle cx="92.1" cy="462.0" r="3.25"/><circle cx="93.0" cy="463.6" r="3.25"/><circle cx="93.8" cy="465.2" r="3.25"/><circle cx="94.5" cy="466.9" r="3.25"/><circle cx="95.1" cy="468.5" r="3.25"/><circle cx="95.8" cy="470.2" r="3.25"/><circle cx="96.6" cy="471.9" r="3.25"/><circle cx="97.3" cy="473.5" r="3.25"/><circle cx="98.1" cy="475.2" r="3.25"/><circle cx="99.2" cy="476.6" r="3.25"/><circle cx="100.2" cy="476.9" r="3.25"/><circle cx="100.9" cy="475.2" r="3.25"/><circle cx="101.6" cy="473.6" r="3.25"/><circle cx="102.1" cy="471.8" r="3.25"/><circle cx="102.6" cy="470.1" r="3.25"/><circle cx="103.1" cy="468.3" r="3.25"/><circle cx="103.7" cy="466.6" r="3.25"/><circle cx="104.6" cy="465.0" r="3.25"/><circle cx="105.5" cy="463.5" r="3.25"/><circle cx="107.0" cy="462.4" r="3.25"/><circle cx="108.0" cy="463.7" r="3.25"/><circle cx="108.9" cy="465.3" r="3.25"/><circle cx="109.2" cy="467.0" r="3.25"/><circle cx="109.6" cy="468.8" r="3.25"/><circle cx="110.0" cy="470.6" r="3.25"/><circle cx="110.3" cy="472.4" r="3.25"/><circle cx="110.6" cy="474.2" r="3.25"/><circle cx="110.9" cy="475.9" r="3.25"/><circle cx="111.2" cy="477.7" r="3.25"/><circle cx="111.4" cy="479.5" r="3.25"/><circle cx="111.5" cy="481.4" r="3.25"/><circle cx="111.6" cy="483.2" r="3.25"/><circle cx="111.7" cy="485.0" r="3.25"/><circle cx="111.6" cy="486.8" r="3.25"/><circle cx="111.4" cy="488.6" r="3.25"/><circle cx="111.2" cy="490.4" r="3.25"/><circle cx="114.8" cy="483.0" r="3.1"/><circle cx="114.9" cy="481.2" r="3.1"/><circle cx="115.1" cy="479.4" r="3.1"/><circle cx="115.2" cy="477.6" r="3.1"/><circle cx="115.4" cy="475.8" r="3.1"/><circle cx="115.5" cy="474.0" r="3.1"/><circle cx="115.6" cy="472.2" r="3.1"/><circle cx="115.7" cy="470.4" r="3.1"/><circle cx="116.0" cy="468.6" r="3.1"/><circle cx="116.3" cy="466.8" r="3.1"/><circle cx="116.5" cy="465.0" r="3.1"/><circle cx="116.8" cy="463.2" r="3.1"/><circle cx="117.1" cy="461.4" r="3.1"/><circle cx="117.4" cy="459.7" r="3.1"/><circle cx="118.0" cy="457.9" r="3.1"/><circle cx="118.5" cy="456.2" r="3.1"/><circle cx="119.0" cy="454.5" r="3.1"/><circle cx="119.7" cy="452.8" r="3.1"/><circle cx="120.4" cy="451.1" r="3.1"/><circle cx="121.1" cy="449.5" r="3.1"/><circle cx="121.9" cy="447.8" r="3.1"/><circle cx="122.7" cy="446.2" r="3.1"/><circle cx="123.5" cy="444.6" r="3.1"/><circle cx="124.3" cy="443.0" r="3.1"/><circle cx="125.8" cy="441.9" r="3.1"/><circle cx="127.3" cy="440.9" r="3.1"/><circle cx="128.8" cy="439.9" r="3.1"/><circle cx="130.5" cy="439.5" r="3.1"/><circle cx="132.3" cy="439.0" r="3.1"/><circle cx="134.0" cy="438.6" r="3.1"/><circle cx="135.8" cy="438.1" r="3.1"/><circle cx="137.5" cy="437.7" r="3.1"/><circle cx="139.3" cy="437.3" r="3.1"/><circle cx="141.1" cy="437.0" r="3.1"/><circle cx="142.9" cy="436.6" r="3.1"/><circle cx="144.6" cy="436.2" r="3.1"/><circle cx="146.3" cy="435.5" r="3.1"/><circle cx="148.0" cy="434.8" r="3.1"/><circle cx="149.6" cy="434.1" r="3.1"/><circle cx="151.3" cy="433.4" r="3.1"/><circle cx="152.2" cy="431.8" r="3.1"/><circle cx="153.1" cy="430.2" r="3.1"/><circle cx="153.9" cy="428.7" r="3.1"/><circle cx="154.8" cy="427.1" r="3.1"/><circle cx="155.3" cy="425.3" r="3.1"/><circle cx="155.6" cy="423.6" r="3.1"/><circle cx="156.0" cy="421.8" r="3.1"/><circle cx="156.4" cy="420.0" r="3.1"/><circle cx="156.9" cy="418.3" r="3.1"/><circle cx="157.6" cy="416.6" r="3.1"/><circle cx="158.3" cy="414.9" r="3.1"/><circle cx="158.9" cy="413.3" r="3.1"/><circle cx="159.8" cy="411.7" r="3.1"/><circle cx="161.1" cy="410.4" r="3.1"/><circle cx="162.4" cy="409.1" r="3.1"/><circle cx="163.6" cy="407.9" r="3.1"/><circle cx="165.1" cy="406.8" r="3.1"/><circle cx="166.6" cy="405.8" r="3.1"/><circle cx="168.1" cy="404.7" r="3.1"/><circle cx="169.5" cy="403.7" r="3.1"/><circle cx="171.0" cy="402.7" r="3.1"/><circle cx="172.5" cy="401.6" r="3.1"/><circle cx="174.0" cy="400.6" r="3.1"/><circle cx="175.5" cy="399.5" r="3.1"/><circle cx="177.0" cy="398.5" r="3.1"/><circle cx="178.4" cy="397.5" r="3.1"/><circle cx="179.9" cy="396.3" r="3.1"/><circle cx="181.3" cy="395.2" r="3.1"/><circle cx="182.7" cy="394.1" r="3.1"/><circle cx="184.1" cy="393.0" r="3.1"/><circle cx="185.5" cy="391.8" r="3.1"/><circle cx="187.1" cy="390.9" r="3.1"/><circle cx="188.6" cy="390.0" r="3.1"/><circle cx="190.2" cy="389.0" r="3.1"/><circle cx="191.7" cy="388.1" r="3.1"/><circle cx="193.2" cy="387.1" r="3.1"/><circle cx="194.8" cy="386.1" r="3.1"/><circle cx="196.3" cy="385.1" r="3.1"/><circle cx="197.8" cy="384.2" r="3.1"/><circle cx="199.3" cy="383.2" r="3.1"/><circle cx="200.8" cy="382.2" r="3.1"/><circle cx="202.1" cy="381.0" r="3.1"/><circle cx="203.1" cy="379.5" r="3.1"/><circle cx="204.2" cy="378.0" r="3.1"/><circle cx="205.2" cy="376.5" r="3.1"/><circle cx="206.2" cy="375.0" r="3.1"/><circle cx="207.2" cy="373.5" r="3.1"/><circle cx="208.2" cy="372.0" r="3.1"/><circle cx="209.1" cy="370.4" r="3.1"/><circle cx="210.3" cy="369.1" r="3.1"/><circle cx="211.9" cy="368.3" r="3.1"/><circle cx="213.5" cy="367.6" r="3.1"/><circle cx="215.2" cy="366.8" r="3.1"/><circle cx="216.8" cy="366.1" r="3.1"/><circle cx="218.4" cy="365.3" r="3.1"/><circle cx="220.1" cy="364.5" r="3.1"/><circle cx="221.7" cy="363.7" r="3.1"/><circle cx="223.3" cy="362.8" r="3.1"/><circle cx="224.9" cy="362.0" r="3.1"/><circle cx="226.6" cy="361.3" r="3.1"/><circle cx="228.2" cy="360.6" r="3.1"/><circle cx="229.9" cy="359.9" r="3.1"/><circle cx="231.6" cy="359.2" r="3.1"/><circle cx="233.3" cy="358.5" r="3.1"/><circle cx="234.9" cy="357.8" r="3.1"/><circle cx="236.5" cy="357.0" r="3.1"/><circle cx="238.1" cy="356.2" r="3.1"/><circle cx="239.8" cy="355.4" r="3.1"/><circle cx="241.4" cy="354.6" r="3.1"/><circle cx="243.0" cy="353.8" r="3.1"/><circle cx="244.7" cy="353.2" r="3.1"/><circle cx="246.4" cy="352.5" r="3.1"/><circle cx="248.1" cy="351.9" r="3.1"/><circle cx="249.8" cy="351.2" r="3.1"/><circle cx="251.5" cy="350.6" r="3.1"/><circle cx="253.2" cy="349.9" r="3.1"/><circle cx="254.0" cy="348.4" r="3.1"/><circle cx="254.8" cy="346.8" r="3.1"/><circle cx="255.6" cy="345.1" r="3.1"/><circle cx="256.5" cy="343.6" r="3.1"/><circle cx="258.0" cy="342.5" r="3.1"/><circle cx="259.5" cy="341.5" r="3.1"/><circle cx="260.9" cy="340.4" r="3.1"/><circle cx="262.4" cy="339.3" r="3.1"/><circle cx="264.0" cy="338.5" r="3.1"/><circle cx="265.6" cy="337.7" r="3.1"/><circle cx="267.2" cy="336.9" r="3.1"/><circle cx="268.8" cy="336.1" r="3.1"/><circle cx="270.5" cy="335.3" r="3.1"/><circle cx="272.2" cy="335.0" r="3.1"/><circle cx="274.0" cy="334.8" r="3.1"/><circle cx="275.8" cy="334.6" r="3.1"/><circle cx="277.6" cy="335.0" r="3.1"/><circle cx="279.4" cy="335.4" r="3.1"/><circle cx="281.2" cy="335.7" r="3.1"/><circle cx="283.0" cy="335.7" r="3.1"/><circle cx="284.8" cy="335.7" r="3.1"/><circle cx="286.6" cy="335.7" r="3.1"/><circle cx="288.4" cy="335.5" r="3.1"/><circle cx="290.2" cy="335.4" r="3.1"/><circle cx="292.0" cy="335.2" r="3.1"/><circle cx="293.7" cy="335.7" r="3.1"/><circle cx="295.5" cy="336.2" r="3.1"/><circle cx="297.2" cy="336.7" r="3.1"/><circle cx="112.1" cy="505" r="3"/><circle cx="154.3" cy="417.2" r="2.6"/></g>
</g>
<rect x="66.4" y="332.2" width="242.6" height="218.6" fill="none" stroke="#1a1a1a" stroke-width="1.45" stroke-linejoin="miter"/>
<text x="61.6" y="345.3" font-size="16" text-anchor="end" fill="#000">10<tspan font-size="11" dx="0.6" dy="-6.4">2</tspan></text>
<text x="61.6" y="408.3" font-size="16" text-anchor="end" fill="#000">10<tspan font-size="11" dx="0.6" dy="-6.4">1</tspan></text>
<text x="61.6" y="471.3" font-size="16" text-anchor="end" fill="#000">10<tspan font-size="11" dx="0.6" dy="-6.4">0</tspan></text>
<text x="61.6" y="534.3" font-size="16" text-anchor="end" fill="#000">10<tspan font-size="11" dx="0.6" dy="-6.4">−1</tspan></text>
<text x="0" y="0" font-size="16" text-anchor="middle" font-weight="normal" font-style="normal" fill="#000" transform="translate(66.4,567.6) scale(1.06,1)">0</text>
<text x="0" y="0" font-size="16" text-anchor="middle" font-weight="normal" font-style="normal" fill="#000" transform="translate(114.92,567.6) scale(1.06,1)">100</text>
<text x="0" y="0" font-size="16" text-anchor="middle" font-weight="normal" font-style="normal" fill="#000" transform="translate(163.44,567.6) scale(1.06,1)">200</text>
<text x="0" y="0" font-size="16" text-anchor="middle" font-weight="normal" font-style="normal" fill="#000" transform="translate(211.96,567.6) scale(1.06,1)">300</text>
<text x="0" y="0" font-size="16" text-anchor="middle" font-weight="normal" font-style="normal" fill="#000" transform="translate(260.48,567.6) scale(1.06,1)">400</text>
<text x="0" y="0" font-size="16" text-anchor="middle" font-weight="normal" font-style="normal" fill="#000" transform="translate(309,567.6) scale(1.06,1)">500</text>
<text x="126.6" y="588.8" font-size="16.8" fill="#000">Temperature (K)</text>
<line x1="186.2" y1="458.3" x2="196.2" y2="458.3" stroke="#000" stroke-width="1.0"/>
<circle cx="191.2" cy="458.3" r="2.6" fill="#000"/>
<text x="207.6" y="462.9" font-size="14.4" fill="#000">T-graphene</text>
<line x1="186.2" y1="475.9" x2="196.2" y2="475.9" stroke="#7a1a96" stroke-width="1.0"/>
<circle cx="191.2" cy="475.9" r="2.6" fill="#7a1a96"/>
<text x="207.6" y="480.9" font-size="14.4" fill="#000">BaMnSb<tspan font-size="10" dy="4">2</tspan></text>
<line x1="186.2" y1="496.7" x2="196.2" y2="496.7" stroke="#0000ff" stroke-width="1.0"/>
<circle cx="191.2" cy="496.7" r="2.6" fill="#0000ff"/>
<text x="207.6" y="501.6" font-size="14.4" fill="#000">PbTaSe<tspan font-size="10" dy="4">2</tspan></text>
<line x1="186.2" y1="517.5" x2="196.2" y2="517.5" stroke="#838c24" stroke-width="1.0"/>
<circle cx="191.2" cy="517.5" r="2.6" fill="#838c24"/>
<text x="207.6" y="521.8" font-size="14.4" fill="#000">(111)-LAO/STO</text>
<line x1="186.2" y1="534.5" x2="196.2" y2="534.5" stroke="#ff1e14" stroke-width="1.0"/>
<circle cx="191.2" cy="534.5" r="2.6" fill="#ff1e14"/>
<text x="207.6" y="539.3" font-size="14.4" fill="#000">(112)-LAO/STO</text>
<g transform="translate(21.4,510.8) rotate(-90)"><text x="0" y="0.2" font-size="16" fill="#000">|</text><text x="4.9" y="0.4" font-size="16" font-style="italic" fill="#000">E</text><text x="15.4" y="-6.3" font-size="11" fill="#000">2</text><text transform="translate(23.4,-7) scale(0.8,1)" font-size="10.5" font-style="italic" style="font-family:'Liberation Serif'" fill="#000">ω</text><text x="15.8" y="5" font-size="11" font-style="italic" fill="#000">xy</text><text x="29.9" y="0.4" font-size="16" fill="#000">|/(</text><text x="45.2" y="0.4" font-size="16" font-style="italic" fill="#000">E</text><text transform="translate(56.2,-6.9) scale(0.8,1)" font-size="10.5" font-style="italic" style="font-family:'Liberation Serif'" fill="#000">ω</text><text x="55.7" y="4.3" font-size="11" font-style="italic" fill="#000">xx</text><text x="67.1" y="-0.2" font-size="16" fill="#000">)</text><text x="71.9" y="-6.4" font-size="11" fill="#000">2</text><text x="84" y="-0.2" font-size="16" fill="#000">(μm V</text><text x="127.2" y="-6.1" font-size="11" fill="#000">-1</text><text x="138.6" y="-0.2" font-size="16" fill="#000">)</text></g>
<text x="0" y="0" font-size="17.8" text-anchor="start" font-weight="bold" font-style="normal" fill="#000" transform="translate(341.9,317.5) scale(1.03,1)" style="stroke-width:0">d</text>
<path d="M428.6,546h3.8 M428.6,541.7h2.0 M428.6,537.4h2.0 M428.6,533.1h2.0 M428.6,528.8h2.0 M428.6,524.5h2.0 M428.6,520.2h2.0 M428.6,515.9h2.0 M428.6,511.6h2.0 M428.6,507.3h2.0 M428.6,503h3.8 M428.6,498.7h2.0 M428.6,494.4h2.0 M428.6,490.1h2.0 M428.6,485.8h2.0 M428.6,481.5h2.0 M428.6,477.2h2.0 M428.6,472.9h2.0 M428.6,468.6h2.0 M428.6,464.3h2.0 M428.6,460h3.8 M428.6,455.7h2.0 M428.6,451.4h2.0 M428.6,447.1h2.0 M428.6,442.8h2.0 M428.6,438.5h2.0 M428.6,434.2h2.0 M428.6,429.9h2.0 M428.6,425.6h2.0 M428.6,421.3h2.0 M428.6,417h3.8 M428.6,412.7h2.0 M428.6,408.4h2.0 M428.6,404.1h2.0 M428.6,399.8h2.0 M428.6,395.5h2.0 M428.6,391.2h2.0 M428.6,386.9h2.0 M428.6,382.6h2.0 M428.6,378.3h2.0 M428.6,374h3.8 M428.6,369.7h2.0 M428.6,365.4h2.0 M428.6,361.1h2.0 M428.6,356.8h2.0 M428.6,352.5h2.0 M428.6,348.2h2.0 M428.6,343.9h2.0 M428.6,339.6h2.0 M428.6,335.3h2.0 M449,550.4v3.8 M489.4,550.4v3.8 M529.9,550.4v3.8 M570.4,550.4v3.8 M610.8,550.4v3.8 M651.1,550.4v3.8" stroke="#111" stroke-width="1.3" fill="none"/>
<rect x="436.55" y="545.7" width="24.9" height="1.1" fill="#c8c8f0"/>
<rect x="477.05" y="545" width="24.9" height="1.7" fill="#3333ff"/>
<rect x="517.45" y="434.5" width="24.9" height="111.5" fill="#6677ff"/>
<rect x="557.95" y="510.2" width="24.9" height="35.8" fill="#55b0ff"/>
<rect x="598.25" y="524" width="24.9" height="22" fill="#66fa9e"/>
<rect x="638.55" y="544.7" width="24.9" height="1.7" fill="#aaee44"/>
<path d="M449,546.9V545.6M446,545.6h6M446,546.9h6" stroke="#8a8a8a" stroke-width="1.4" fill="none"/>
<path d="M489.5,547V544.6M486.5,544.6h6M486.5,547h6" stroke="#8a8a8a" stroke-width="1.4" fill="none"/>
<path d="M529.9,481.7V387.5M526.9,387.5h6M526.9,481.7h6" stroke="#8a8a8a" stroke-width="1.4" fill="none"/>
<path d="M570.4,520.3V501.3M567.4,501.3h6M567.4,520.3h6" stroke="#8a8a8a" stroke-width="1.4" fill="none"/>
<path d="M610.7,531.6V516.4M607.7,516.4h6M607.7,531.6h6" stroke="#8a8a8a" stroke-width="1.4" fill="none"/>
<path d="M651,547.1V543.5M648,543.5h6M648,547.1h6" stroke="#8a8a8a" stroke-width="1.4" fill="none"/>
<rect x="428.6" y="331.6" width="242.9" height="218.8" fill="none" stroke="#1a1a1a" stroke-width="1.45" stroke-linejoin="miter"/>
<text x="0" y="0" font-size="16" text-anchor="end" font-weight="normal" font-style="normal" fill="#000" transform="translate(424.2,336.6) scale(1.06,1)">50</text>
<text x="0" y="0" font-size="16" text-anchor="end" font-weight="normal" font-style="normal" fill="#000" transform="translate(424.2,379.6) scale(1.06,1)">40</text>
<text x="0" y="0" font-size="16" text-anchor="end" font-weight="normal" font-style="normal" fill="#000" transform="translate(424.2,422.6) scale(1.06,1)">30</text>
<text x="0" y="0" font-size="16" text-anchor="end" font-weight="normal" font-style="normal" fill="#000" transform="translate(424.2,465.6) scale(1.06,1)">20</text>
<text x="0" y="0" font-size="16" text-anchor="end" font-weight="normal" font-style="normal" fill="#000" transform="translate(424.2,508.6) scale(1.06,1)">10</text>
<text x="0" y="0" font-size="16" text-anchor="end" font-weight="normal" font-style="normal" fill="#000" transform="translate(424.2,551.6) scale(1.06,1)">0</text>
<text x="452.5" y="569.4" font-size="16" text-anchor="middle" font-weight="normal" font-style="normal" fill="#000">(110)</text>
<text x="492.9" y="569.4" font-size="16" text-anchor="middle" font-weight="normal" font-style="normal" fill="#000">(111)</text>
<text x="533.4" y="569.4" font-size="16" text-anchor="middle" font-weight="normal" font-style="normal" fill="#000">(112)</text>
<text x="573.9" y="569.4" font-size="16" text-anchor="middle" font-weight="normal" font-style="normal" fill="#000">(113)</text>
<text x="614.3" y="569.4" font-size="16" text-anchor="middle" font-weight="normal" font-style="normal" fill="#000">(114)</text>
<text x="654.6" y="569.4" font-size="16" text-anchor="middle" font-weight="normal" font-style="normal" fill="#000">(001)</text>
<text x="472.5" y="589.5" font-size="16.5" fill="#000">Substrate orientation</text>
<g transform="translate(390,505.4) rotate(-90)"><text x="-0.7" y="0.2" font-size="16" font-style="italic" fill="#000">E</text><text x="10.6" y="-7.4" font-size="11" fill="#000">2</text><text transform="translate(17.4,-6.8) scale(0.8,1)" font-size="10.5" font-style="italic" style="font-family:'Liberation Serif'" fill="#000">ω</text><text x="9.2" y="4.8" font-size="11" font-style="italic" fill="#000">xy</text><text x="24.4" y="0.6" font-size="16" fill="#000">/(</text><text x="34.8" y="0.2" font-size="16" font-style="italic" fill="#000">E</text><text transform="translate(47.3,-7) scale(0.8,1)" font-size="10.5" font-style="italic" style="font-family:'Liberation Serif'" fill="#000">ω</text><text x="46.5" y="5.1" font-size="11" font-style="italic" fill="#000">xx</text><text x="58.2" y="0.6" font-size="16" fill="#000">)</text><text x="62.2" y="-6.7" font-size="11" fill="#000">2</text><text x="70" y="0.6" font-size="16" fill="#000">(μm V</text><text x="113.3" y="-6.2" font-size="11" fill="#000">-1</text><text x="124.7" y="1" font-size="16" fill="#000">)</text></g>
</svg></body></html>
